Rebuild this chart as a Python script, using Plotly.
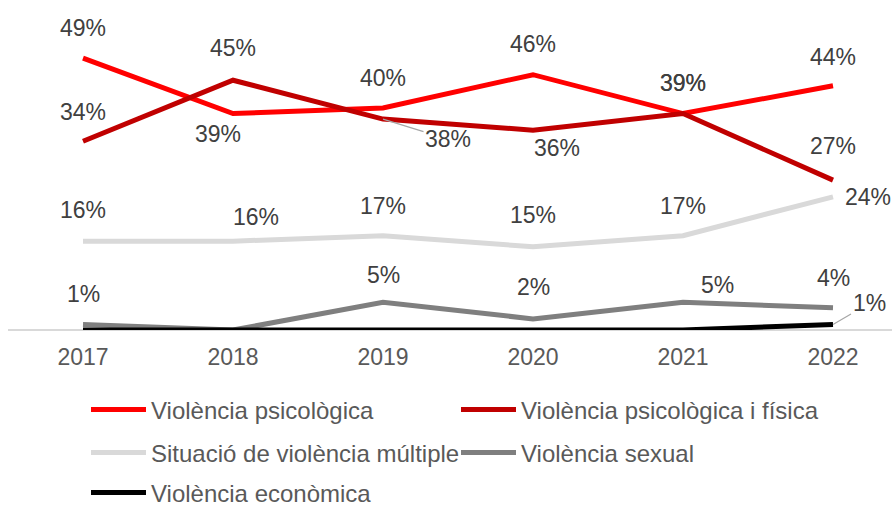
import plotly.graph_objects as go

years = ["2017", "2018", "2019", "2020", "2021", "2022"]
series_names = [
    "Violència psicològica",
    "Violència psicològica i física",
    "Situació de violència múltiple",
    "Violència sexual",
    "Violència econòmica",
]
psicologica = [49, 39, 40, 46, 39, 44]
psicologica_fisica = [34, 45, 38, 36, 39, 27]
multiple = [16, 16, 17, 15, 17, 24]
sexual = [1, 0, 5, 2, 5, 4]
economica = [0, 0, 0, 0, 0, 1]

all_values = [psicologica, psicologica_fisica, multiple, sexual, economica]
colors = ["#FF0000", "#C00000", "#D9D9D9", "#7F7F7F", "#000000"]

# label offsets in pixels (dx right, dy down) relative to each point; "L" = with leader line
label_offsets = [
    [(0, -30), (-15, 20), (0, -30), (0, -31), (0, -31), (0, -29)],
    [(0, -29), (0, -32), ("L", 65, 20), (24, 18), (0, -31), (0, -34)],
    [(0, -31), (23, -24), (0, -30), (0, -32), (0, -30), (35, 0)],
    [(0, -30), (0, -30), (0, -27), (0, -32), (34, -17), (0, -30)],
    [(0, -30), (0, -30), (0, -30), (0, -30), (0, -30), ("L", 36, -21)],
]

W, H = 892, 507
ml, mr, mt, mb = 8, 0, 0, 177
plot_w = W - ml - mr
plot_h = H - mt - mb
px_per_cat = 150
px_per_pct = 5.55

fig = go.Figure()
legend_ids = ["legend", "legend2", "legend3", "legend4", "legend5"]
for name, vals, col, lid in zip(series_names, all_values, colors, legend_ids):
    fig.add_trace(go.Scatter(
        x=years, y=vals, name=name, mode="lines",
        line=dict(color=col, width=5),
        legend=lid, hoverinfo="skip",
    ))

font_family = "Liberation Sans, Arial, sans-serif"
annotations = []
for vals, offs in zip(all_values, label_offsets):
    for idx, (v, off) in enumerate(zip(vals, offs)):
        if v <= 0:
            continue
        if off[0] == "L":
            annotations.append(dict(
                x=idx, y=v, xref="x", yref="y", text=f"{v}%",
                showarrow=True, ax=off[1], ay=off[2],
                arrowhead=0, arrowwidth=1.2, arrowcolor="#A6A6A6", standoff=0,
                font=dict(family=font_family, size=23, color="#404040"),
            ))
        else:
            annotations.append(dict(
                x=idx, y=v, xref="x", yref="y", text=f"{v}%", showarrow=False,
                xshift=off[0], yshift=-off[1],
                font=dict(family=font_family, size=23, color="#404040"),
            ))

# legend placement (page pixels: legend box left, centre y)
legend_pos = [(86, 410), (456, 410), (86, 453), (456, 453), (86, 493)]
layout_legends = {}
for lid, (lx, ly) in zip(legend_ids, legend_pos):
    layout_legends[lid] = dict(
        xref="container", yref="container",
        x=lx / W, y=(H - ly) / H,
        xanchor="left", yanchor="middle", orientation="h",
        font=dict(family=font_family, size=24, color="#595959"),
        bgcolor="rgba(0,0,0,0)", itemwidth=55, borderwidth=0,
        itemclick=False, itemdoubleclick=False,
    )

fig.update_layout(
    width=W, height=H,
    margin=dict(l=ml, r=mr, t=mt, b=mb, pad=0, autoexpand=False),
    paper_bgcolor="white", plot_bgcolor="white",
    showlegend=True,
    hovermode=False,
    annotations=annotations,
    xaxis=dict(
        type="category", range=[-0.5, -0.5 + plot_w / px_per_cat],
        showgrid=False, zeroline=False, showline=False,
        ticks="", tickfont=dict(family=font_family, size=23, color="#595959"),
        ticklabelstandoff=11,
    ),
    yaxis=dict(
        range=[0, plot_h / px_per_pct], visible=True, showticklabels=False,
        showgrid=False, zeroline=True, zerolinecolor="#D9D9D9", zerolinewidth=1.5,
        showline=False, ticks="",
    ),
    **layout_legends,
)
fig.write_html(
    "out.html",
    config={"displayModeBar": False},
    post_script="document.body.style.margin='0';document.body.style.overflow='hidden';",
)
